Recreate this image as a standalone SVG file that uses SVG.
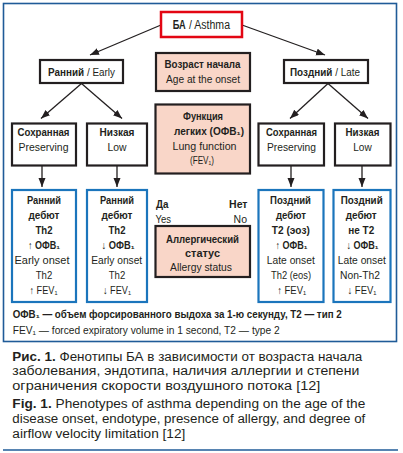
<svg xmlns="http://www.w3.org/2000/svg" width="403" height="453" viewBox="0 0 403 453">
<style>
text{font-family:"Liberation Sans",Arial,sans-serif;fill:#231f20}
.d{font-size:10.5px;text-anchor:middle}
.b{font-weight:bold}
.k{fill:#fff;stroke:#231f20;stroke-width:2.2}
.s{fill:#f9d6c8;stroke:#231f20;stroke-width:2.2}
.u{fill:#fff;stroke:#1b75bc;stroke-width:2.2}
.c{font-size:12.5px}
.f{font-size:10px}
line{stroke:#231f20;stroke-width:1.3}
</style>
<defs>
<marker id="ah" markerUnits="userSpaceOnUse" markerWidth="10" markerHeight="8" refX="9" refY="3.5" orient="auto"><path d="M0,0 L9,3.5 L0,7 z" fill="#231f20"/></marker>
</defs>
<rect x="0" y="0" width="403" height="453" fill="#fff"/>
<rect x="3.5" y="3.5" width="393" height="338" fill="none" stroke="#1f5b98" stroke-width="1.6"/>
<line x1="3" y1="450" x2="398" y2="450" style="stroke:#1f5b98;stroke-width:1.6"/>

<g id="connectors">
<line x1="161" y1="25" x2="90" y2="55" marker-end="url(#ah)"/>
<line x1="242" y1="25" x2="325" y2="55" marker-end="url(#ah)"/>
<line x1="81.5" y1="83.5" x2="41" y2="118.5" marker-end="url(#ah)"/>
<line x1="81.5" y1="83.5" x2="122" y2="118.5" marker-end="url(#ah)"/>
<line x1="328" y1="83.5" x2="290" y2="118.5" marker-end="url(#ah)"/>
<line x1="328" y1="83.5" x2="368" y2="118.5" marker-end="url(#ah)"/>
<line x1="42" y1="166" x2="42" y2="187" marker-end="url(#ah)"/>
<line x1="117" y1="166" x2="117" y2="187" marker-end="url(#ah)"/>
<line x1="291" y1="166" x2="291" y2="187" marker-end="url(#ah)"/>
<line x1="362" y1="166" x2="362" y2="187" marker-end="url(#ah)"/>
</g>

<g id="asthma">
<rect x="161" y="12" width="81" height="25" fill="#fff" stroke="#e30613" stroke-width="2.5"/>
<text class="b" x="172.7" y="28.5" style="font-size:12px" textLength="13" lengthAdjust="spacingAndGlyphs">БА</text>
<text x="189" y="28.5" style="font-size:12px" textLength="41" lengthAdjust="spacingAndGlyphs">/ Asthma</text>
</g>
<g id="early">
<rect class="k" x="40" y="60" width="83" height="23"/>
<text class="d" x="81.5" y="75.5" textLength="67" lengthAdjust="spacingAndGlyphs"><tspan class="b">Ранний</tspan> / Early</text>
</g>
<g id="late">
<rect class="k" x="284" y="60" width="84" height="23"/>
<text class="d" x="325" y="75.5" textLength="70" lengthAdjust="spacingAndGlyphs"><tspan class="b">Поздний</tspan> / Late</text>
</g>
<g id="age">
<rect class="s" x="156" y="53" width="94" height="38"/>
<text class="d b" x="202.5" y="67.5" textLength="76" lengthAdjust="spacingAndGlyphs">Возраст начала</text>
<text class="d" x="203" y="82.5" textLength="74" lengthAdjust="spacingAndGlyphs">Age at the onset</text>
</g>
<g id="lung">
<rect class="s" x="155.5" y="104.5" width="94.5" height="69"/>
<text class="d b" x="203" y="119.5" textLength="40" lengthAdjust="spacingAndGlyphs">Функция</text>
<text class="d b" x="209" y="134.5" textLength="70" lengthAdjust="spacingAndGlyphs">легких (ОФВ₁)</text>
<text class="d" x="204.5" y="149.5" textLength="64" lengthAdjust="spacingAndGlyphs">Lung function</text>
<text class="d" x="202" y="164" textLength="24" lengthAdjust="spacingAndGlyphs">(FEV₁)</text>
</g>
<g id="yesno">
<text class="b" x="156" y="208" style="font-size:10.5px" textLength="12.5" lengthAdjust="spacingAndGlyphs">Да</text>
<text x="155.5" y="223" style="font-size:10.5px" textLength="15.5" lengthAdjust="spacingAndGlyphs">Yes</text>
<text class="b" x="247.5" y="208" style="font-size:10.5px;text-anchor:end">Нет</text>
<text x="247" y="223" style="font-size:10.5px;text-anchor:end">No</text>
</g>
<g id="allergy">
<rect class="s" x="155.5" y="226" width="94.5" height="51"/>
<text class="d b" x="202.5" y="242.5" textLength="73" lengthAdjust="spacingAndGlyphs">Аллергический</text>
<text class="d b" x="202.5" y="257" textLength="35" lengthAdjust="spacingAndGlyphs">статус</text>
<text class="d" x="201" y="271" textLength="62" lengthAdjust="spacingAndGlyphs">Allergy status</text>
</g>

<g id="pres-early">
<rect class="k" x="12" y="123.5" width="64" height="42"/>
<text class="d b" x="43.5" y="135.7" textLength="52" lengthAdjust="spacingAndGlyphs">Сохранная</text>
<text class="d" x="43.5" y="150.7" textLength="50" lengthAdjust="spacingAndGlyphs">Preserving</text>
</g>
<g id="low-early">
<rect class="k" x="87" y="123.5" width="60" height="42"/>
<text class="d b" x="117" y="135.7" textLength="35" lengthAdjust="spacingAndGlyphs">Низкая</text>
<text class="d" x="117" y="150.7" textLength="19" lengthAdjust="spacingAndGlyphs">Low</text>
</g>
<g id="pres-late">
<rect class="k" x="258.5" y="123.5" width="65.5" height="42"/>
<text class="d b" x="291.5" y="135.7" textLength="51" lengthAdjust="spacingAndGlyphs">Сохранная</text>
<text class="d" x="291.5" y="150.7" textLength="49" lengthAdjust="spacingAndGlyphs">Preserving</text>
</g>
<g id="low-late">
<rect class="k" x="335" y="123.5" width="55.5" height="42"/>
<text class="d b" x="362.5" y="135.7" textLength="34" lengthAdjust="spacingAndGlyphs">Низкая</text>
<text class="d" x="362.5" y="150.7" textLength="18.5" lengthAdjust="spacingAndGlyphs">Low</text>
</g>

<g id="early-th2-high">
<rect class="u" x="12" y="190" width="64" height="112"/>
<text class="d b" x="44" y="204.3" textLength="34" lengthAdjust="spacingAndGlyphs">Ранний</text>
<text class="d b" x="44" y="219.3" textLength="31" lengthAdjust="spacingAndGlyphs">дебют</text>
<text class="d b" x="44" y="234" textLength="17" lengthAdjust="spacingAndGlyphs">Th2</text>
<text class="d b" x="44" y="249" textLength="32" lengthAdjust="spacingAndGlyphs">↑ ОФВ₁</text>
<text class="d" x="42" y="263.5" textLength="55" lengthAdjust="spacingAndGlyphs">Early onset</text>
<text class="d" x="44" y="278.5" textLength="16.5" lengthAdjust="spacingAndGlyphs">Th2</text>
<text class="d" x="43.5" y="293.5" textLength="28" lengthAdjust="spacingAndGlyphs">↑ FEV₁</text>
</g>
<g id="early-th2-low">
<rect class="u" x="87" y="190" width="60" height="112"/>
<text class="d b" x="117" y="204.3" textLength="34" lengthAdjust="spacingAndGlyphs">Ранний</text>
<text class="d b" x="117" y="219.3" textLength="31" lengthAdjust="spacingAndGlyphs">дебют</text>
<text class="d b" x="117" y="234" textLength="17" lengthAdjust="spacingAndGlyphs">Th2</text>
<text class="d b" x="118" y="249" textLength="33" lengthAdjust="spacingAndGlyphs">↓ ОФВ₁</text>
<text class="d" x="116.7" y="263.5" textLength="51" lengthAdjust="spacingAndGlyphs">Early onset</text>
<text class="d" x="117" y="278.5" textLength="16.5" lengthAdjust="spacingAndGlyphs">Th2</text>
<text class="d" x="117" y="293.5" textLength="28" lengthAdjust="spacingAndGlyphs">↓ FEV₁</text>
</g>
<g id="late-t2-high">
<rect class="u" x="258.5" y="190" width="65" height="112"/>
<text class="d b" x="290.5" y="204.3" textLength="41" lengthAdjust="spacingAndGlyphs">Поздний</text>
<text class="d b" x="291" y="219.3" textLength="30" lengthAdjust="spacingAndGlyphs">дебют</text>
<text class="d b" x="290.8" y="234" textLength="38" lengthAdjust="spacingAndGlyphs">T2 (эоз)</text>
<text class="d b" x="291.5" y="249" textLength="32" lengthAdjust="spacingAndGlyphs">↑ ОФВ₁</text>
<text class="d" x="290.8" y="263.5" textLength="48" lengthAdjust="spacingAndGlyphs">Late onset</text>
<text class="d" x="291" y="278.5" textLength="40" lengthAdjust="spacingAndGlyphs">Th2 (eos)</text>
<text class="d" x="291.7" y="293.5" textLength="29" lengthAdjust="spacingAndGlyphs">↑ FEV₁</text>
</g>
<g id="late-nont2-low">
<rect class="u" x="333.5" y="190" width="57" height="112"/>
<text class="d b" x="361.7" y="204.3" textLength="42" lengthAdjust="spacingAndGlyphs">Поздний</text>
<text class="d b" x="361.2" y="219.3" textLength="31" lengthAdjust="spacingAndGlyphs">дебют</text>
<text class="d b" x="361.2" y="234" textLength="26" lengthAdjust="spacingAndGlyphs">не T2</text>
<text class="d b" x="362.5" y="249" textLength="32" lengthAdjust="spacingAndGlyphs">↓ ОФВ₁</text>
<text class="d" x="361.8" y="263.5" textLength="48" lengthAdjust="spacingAndGlyphs">Late onset</text>
<text class="d" x="360" y="278.5" textLength="40" lengthAdjust="spacingAndGlyphs">Non-Th2</text>
<text class="d" x="362" y="293.5" textLength="29" lengthAdjust="spacingAndGlyphs">↓ FEV₁</text>
</g>

<g id="footnote">
<text class="f b" x="12.7" y="318.3" textLength="329" lengthAdjust="spacingAndGlyphs">ОФВ₁ — объем форсированного выдоха за 1-ю секунду, T2 — тип 2</text>
<text class="f" x="12.7" y="334" textLength="267" lengthAdjust="spacingAndGlyphs">FEV₁ — forced expiratory volume in 1 second, T2 — type 2</text>
</g>

<g id="caption">
<text class="c" x="12.3" y="360.5" textLength="350" lengthAdjust="spacingAndGlyphs"><tspan class="b">Рис. 1.</tspan> Фенотипы БА в зависимости от возраста начала</text>
<text class="c" x="12.3" y="375.3" textLength="347" lengthAdjust="spacingAndGlyphs">заболевания, эндотипа, наличия аллергии и степени</text>
<text class="c" x="12.3" y="390" textLength="308" lengthAdjust="spacingAndGlyphs">ограничения скорости воздушного потока [12]</text>
<text class="c" x="12.3" y="408" textLength="353" lengthAdjust="spacingAndGlyphs"><tspan class="b">Fig. 1.</tspan> Phenotypes of asthma depending on the age of the</text>
<text class="c" x="12.3" y="423.3" textLength="353" lengthAdjust="spacingAndGlyphs">disease onset, endotype, presence of allergy, and degree of</text>
<text class="c" x="12.3" y="438.3" textLength="173" lengthAdjust="spacingAndGlyphs">airflow velocity limitation [12]</text>
</g>
</svg>
